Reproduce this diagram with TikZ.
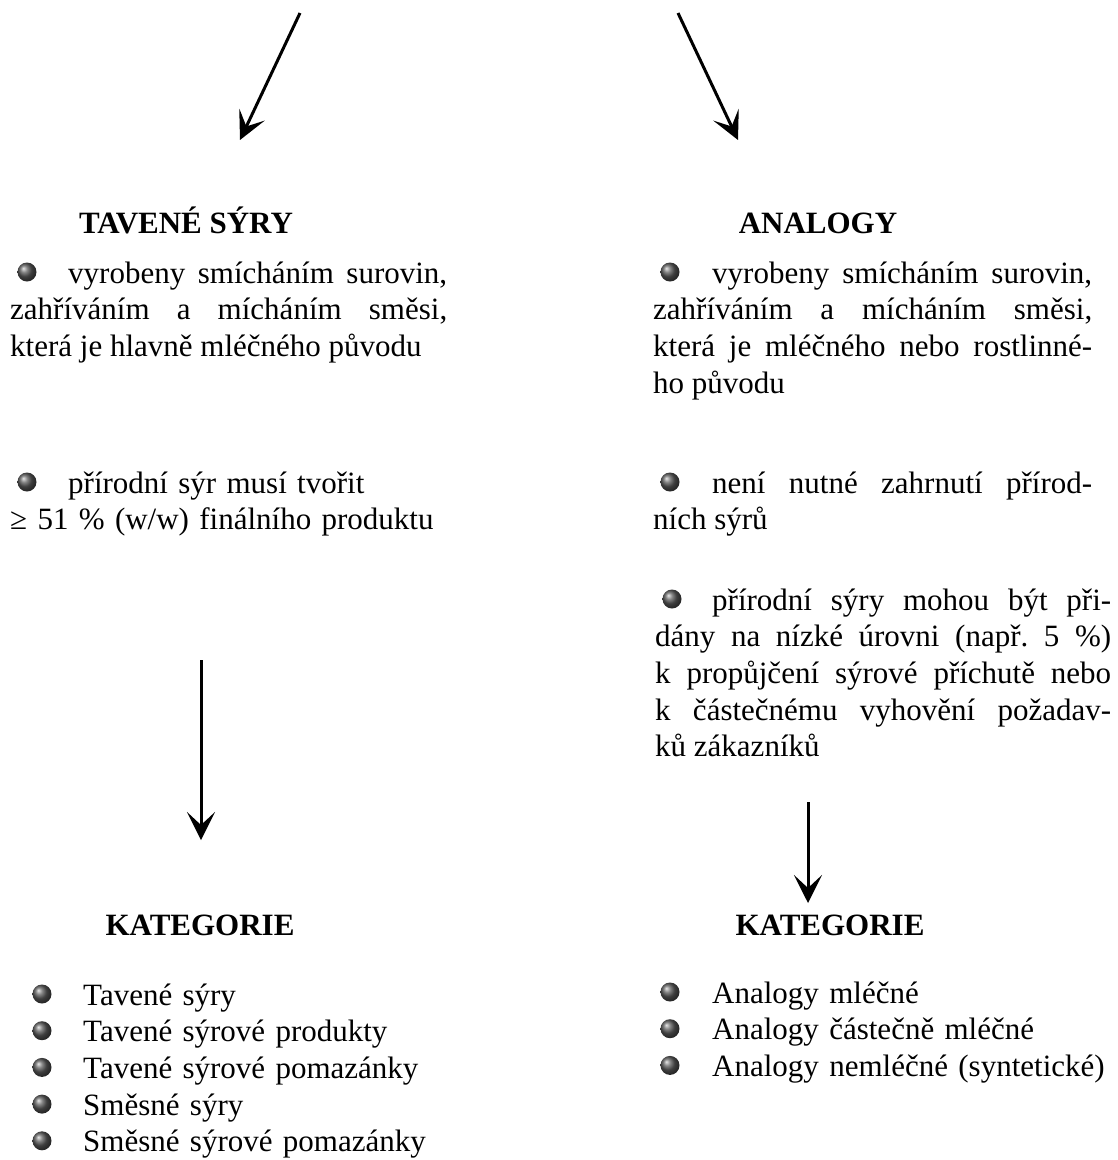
\documentclass[tikz,border=0pt]{standalone}
\usepackage{fontspec}
\setmainfont{Liberation Serif}
\usetikzlibrary{arrows.meta}
\hbadness=10000
\frenchspacing

\begin{document}
\begin{tikzpicture}[x=1pt,y=-1pt,
                    every node/.style={inner sep=0pt,font=\fontsize{31}{36.7}\selectfont},
                    head/.style={anchor=base,font=\fontsize{31}{36.7}\selectfont\bfseries},
                    para/.style={anchor=base west,align=justify},
                    arr/.style={line width=3pt,-{Stealth[length=28pt,width=28pt,inset=13pt]}},
                    ball/.style={ball color=gray!70!black}]
   \useasboundingbox (0,0) rectangle (1118,1160);
   % arrows from the top
   \coordinate (t1) at (300,13);
   \coordinate (t2) at (678,13);
   \coordinate (h1) at (240,140);
   \coordinate (h2) at (738,140);
   \draw[arr] (t1) -- (h1);
   \draw[arr] (t2) -- (h2);
   % headings
   \node[head] (tavene) at (186,233) {TAVENÉ SÝRY};
   \node[head] (analogy) at (818,233) {ANALOGY};
   % left column
   \node[para,text width=437pt] (tav1) at (10,283)
      {\hspace*{58pt}vyrobeny smícháním surovin,\linebreak zahříváním a mícháním směsi,\linebreak která je hlavně mléčného původu};
   \node[para,align=left,text width=437pt] (tav2) at (10,493)
      {\hspace*{58pt}přírodní sýr musí tvořit\\≥ 51 \% (w/w) finálního produktu};
   \shade[ball] (27,272) circle (9.5pt);
   \shade[ball] (27,482) circle (9.5pt);
   % right column
   \node[para,text width=439pt] (ana1) at (653,283)
      {\hspace*{59pt}vyrobeny smícháním surovin,\linebreak zahříváním a mícháním směsi,\linebreak která je mléčného nebo rostlinné-\linebreak ho původu};
   \node[para,text width=439pt] (ana2) at (653,493)
      {\hspace*{59pt}není nutné zahrnutí přírod-\linebreak ních sýrů};
   \node[para,text width=456pt] (ana3) at (655,610)
      {\hspace*{57pt}přírodní sýry mohou být při-\linebreak dány na nízké úrovni (např. 5~\%)\linebreak k propůjčení sýrové příchutě nebo\linebreak k částečnému vyhovění požadav-\linebreak ků zákazníků};
   \shade[ball] (670,272) circle (9.5pt);
   \shade[ball] (670,482) circle (9.5pt);
   \shade[ball] (672,599) circle (9.5pt);
   % arrows down
   \coordinate (d1) at (201,660);
   \coordinate (e1) at (201,840);
   \coordinate (d2) at (808,802);
   \coordinate (e2) at (808,903);
   \draw[arr] (d1) -- (e1);
   \draw[arr] (d2) -- (e2);
   % categories
   \node[head] (katL) at (200,935) {KATEGORIE};
   \node[head] (katR) at (830,935) {KATEGORIE};
   \node[para,align=left,text width=400pt] (listL) at (83,1005)
      {Tavené sýry\\Tavené sýrové produkty\\Tavené sýrové pomazánky\\Směsné sýry\\Směsné sýrové pomazánky};
   \node[para,align=left,text width=400pt] (listR) at (712,1003)
      {Analogy mléčné\\Analogy částečně mléčné\\Analogy nemléčné (syntetické)};
   \foreach \i in {0,...,4} \shade[ball] (42,{994+36.7*\i}) circle (9.5pt);
   \foreach \i in {0,...,2} \shade[ball] (670,{992+36.7*\i}) circle (9.5pt);
\end{tikzpicture}
\end{document}
